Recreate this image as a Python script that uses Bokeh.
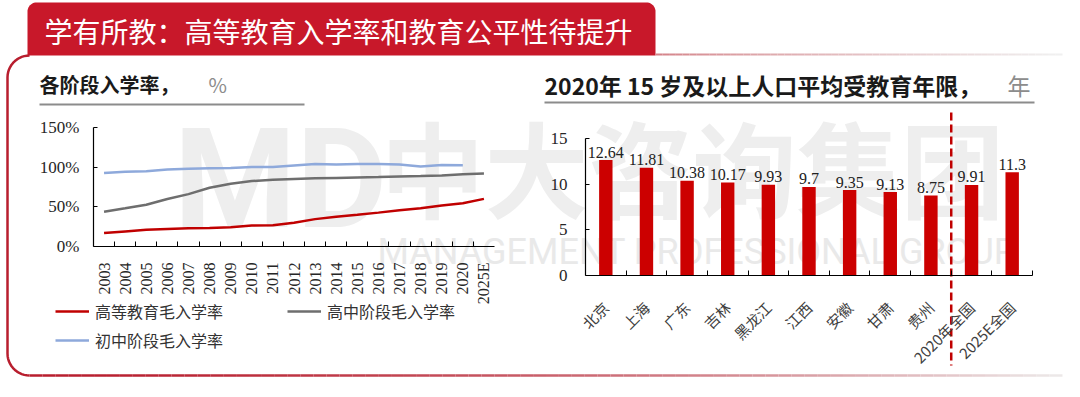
import numpy as np
from math import pi
from bokeh.plotting import figure
from bokeh.models import (Range1d, LinearAxis, FixedTicker, PrintfTickFormatter,
                          Legend, LegendItem)
from bokeh.core.properties import value
from bokeh.embed import file_html
from bokeh.resources import INLINE

# ---------------- data ----------------
years = ["2003", "2004", "2005", "2006", "2007", "2008", "2009", "2010", "2011",
         "2012", "2013", "2014", "2015", "2016", "2017", "2018", "2019", "2020", "2025E"]
higher_edu = [17.0, 19.0, 21.0, 22.0, 23.0, 23.3, 24.2, 26.5, 26.9, 30.0,
              34.5, 37.5, 40.0, 42.7, 45.7, 48.1, 51.6, 54.4, 60.0]
high_school = [43.8, 48.1, 52.7, 59.8, 66.0, 74.0, 79.2, 82.5, 84.0, 85.0,
               86.0, 86.5, 87.0, 87.5, 88.3, 88.8, 89.5, 91.2, 92.0]
junior_high = [92.7, 94.1, 95.0, 97.0, 98.0, 98.5, 99.0, 100.1, 100.1, 102.1,
               104.1, 103.5, 104.0, 104.0, 103.5, 100.9, 102.6, 102.5]
series_names = ["高等教育毛入学率", "高中阶段毛入学率", "初中阶段毛入学率"]
pct_ticks = [0, 50, 100, 150]

regions = ["北京", "上海", "广东", "吉林", "黑龙江", "江西", "安徽", "甘肃", "贵州",
           "2020年全国", "2025E全国"]
edu_years = [12.64, 11.81, 10.38, 10.17, 9.93, 9.7, 9.35, 9.13, 8.75, 9.91, 11.3]
year_ticks = [0, 5, 10, 15]
n_provinces = 9

banner_title = "学有所教：高等教育入学率和教育公平性待提升"
left_title = "各阶段入学率，"
left_unit = "%"
right_title = "2020年 15 岁及以上人口平均受教育年限，"
right_unit = "年"
wm_cn = "中大咨询集团"
wm_en = "MANAGEMENT PROFESSIONAL GROUP"
wm_logo = "MD"

# ---------------- layout helpers ----------------
W, H = 1064, 381


def span_range(d0, d1, p0, p1, lo, hi):
    s = (d1 - d0) / (p1 - p0)
    return Range1d(start=d0 + (lo - p0) * s, end=d0 + (hi - p0) * s)


def hex2rgb(h):
    h = h.lstrip("#")
    return np.array([int(h[i:i + 2], 16) for i in (0, 2, 4)], dtype=float)


def gradient(c0, c1, n, power=1.0):
    a, b = hex2rgb(c0), hex2rgb(c1)
    out = []
    for t in np.linspace(0, 1, n):
        c = a + (b - a) * (t ** power)
        out.append("#%02x%02x%02x" % tuple(int(round(v)) for v in c))
    return out


p = figure(width=W, height=H, x_range=Range1d(0, W), y_range=Range1d(H, 0),
           min_border=0, x_axis_type=None, y_axis_type=None,
           toolbar_location=None, output_backend="svg",
           outline_line_color=None, background_fill_color="white",
           border_fill_color="white")
p.xgrid.visible = False
p.ygrid.visible = False

p.extra_x_ranges = {
    "lx": span_range(-0.5, len(years) - 0.5, 93, 494, 0, W),
    "rx": span_range(-0.5, len(regions) - 0.5, 585, 1032, 0, W),
}
p.extra_y_ranges = {
    "ly": span_range(0, 150, 246, 127, H, 0),
    "ry": span_range(0, 15, 275, 138, H, 0),
}

CJK = "Noto Sans CJK SC"
SERIF = "Liberation Serif"

# ---------------- watermark ----------------
p.text(x=[280], y=[178], text=[wm_logo], text_font=value("Roboto"),
       text_font_style="bold", text_font_size="140px", text_color="#EEEEEE",
       text_align="center", text_baseline="middle")
p.text(x=[692], y=[165], text=[wm_cn], text_font=value(CJK),
       text_font_style="bold", text_font_size="104px", text_color="#EEEEEE",
       text_align="center", text_baseline="middle")
p.text(x=[377], y=[251], text=[wm_en], text_font=value("Roboto"),
       text_font_size="36px", text_color="#E9E9E9",
       text_align="left", text_baseline="middle")

# ---------------- banner ----------------
bx0, bx1, by0, by1, br = 27, 655, 2, 55, 9
t1 = np.linspace(pi, 1.5 * pi, 12)
t2 = np.linspace(1.5 * pi, 2 * pi, 12)
bxs = [bx0] + list(bx0 + br + br * np.cos(t1)) + list(bx1 - br + br * np.cos(t2)) + [bx1]
bys = [by1] + list(by0 + br + br * np.sin(t1)) + list(by0 + br + br * np.sin(t2)) + [by1]
p.patch(bxs, bys, fill_color="#C8182A", line_color=None)
p.text(x=[44], y=[30], text=[banner_title], text_font=value(CJK),
       text_font_size="28px", text_color="white", text_baseline="middle")

# ---------------- frame ----------------
fr = 22
fx, ftop, fbot = 7, 55, 375
ta = np.linspace(1.5 * pi, pi, 14)
tb = np.linspace(pi, 0.5 * pi, 14)
lxs = list(fx + fr + fr * np.cos(ta)) + list(fx + fr + fr * np.cos(tb))
lys = list(ftop + fr + fr * np.sin(ta)) + list(fbot - fr + fr * np.sin(tb))
p.line(lxs, lys, line_color="#B81E2E", line_width=2.5)

nb = 80
bxs_g = np.linspace(fx + fr, 1062, nb + 1)
p.segment(x0=bxs_g[:-1], y0=[fbot] * nb, x1=bxs_g[1:], y1=[fbot] * nb,
          line_color=gradient("#B81E2E", "#ECE8E8", nb, 1.6), line_width=2.5)
nt = 60
txs_g = np.linspace(bx1, 1062, nt + 1)
p.segment(x0=txs_g[:-1], y0=[54] * nt, x1=txs_g[1:], y1=[54] * nt,
          line_color=gradient("#D48288", "#F0F0F0", nt, 0.8), line_width=2)

# ---------------- panel titles ----------------
p.text(x=[39], y=[84], text=[left_title], text_font=value(CJK),
       text_font_style="bold", text_font_size="20px", text_color="#1A1A1A",
       text_baseline="middle")
p.text(x=[208], y=[84], text=[left_unit], text_font=value(CJK),
       text_font_size="20px", text_color="#8C8C8C", text_baseline="middle")
p.segment(x0=[39], y0=[104], x1=[304], y1=[104], line_color="#8C8C8C", line_width=2)

p.text(x=[544], y=[84], text=[right_title], text_font=value(CJK),
       text_font_style="bold", text_font_size="23px", text_color="#1A1A1A",
       text_baseline="middle")
p.text(x=[1007], y=[84], text=[right_unit], text_font=value(CJK),
       text_font_size="23px", text_color="#8C8C8C", text_baseline="middle")
p.segment(x0=[544], y0=[102], x1=[1034], y1=[102], line_color="#8C8C8C", line_width=2)

# ---------------- left chart: enrolment rates ----------------
r_hi = p.line(x=list(range(len(higher_edu))), y=higher_edu, x_range_name="lx",
              y_range_name="ly", line_color="#C00000", line_width=2.5)
r_hs = p.line(x=list(range(len(high_school))), y=high_school, x_range_name="lx",
              y_range_name="ly", line_color="#6E6E6E", line_width=2.5)
r_jh = p.line(x=list(range(len(junior_high))), y=junior_high, x_range_name="lx",
              y_range_name="ly", line_color="#8EA9DB", line_width=2.5)

ly_axis = LinearAxis(x_range_name="lx", y_range_name="ly", fixed_location=-0.5,
                     bounds=(pct_ticks[0], pct_ticks[-1]),
                     ticker=FixedTicker(ticks=pct_ticks),
                     formatter=PrintfTickFormatter(format="%d%%"))
lx_axis = LinearAxis(x_range_name="lx", y_range_name="ly", fixed_location=0,
                     bounds=(-0.5, len(years) - 0.5),
                     ticker=FixedTicker(ticks=list(range(len(years))),
                                        minor_ticks=[i + 0.5 for i in range(len(years) - 1)]),
                     major_label_overrides={i: y for i, y in enumerate(years)},
                     major_label_orientation=pi / 2)

ry_axis = LinearAxis(x_range_name="rx", y_range_name="ry", fixed_location=-0.5,
                     bounds=(year_ticks[0], year_ticks[-1]),
                     ticker=FixedTicker(ticks=year_ticks))
rx_axis = LinearAxis(x_range_name="rx", y_range_name="ry", fixed_location=0,
                     bounds=(-0.5, len(regions) - 0.5),
                     ticker=FixedTicker(ticks=list(range(len(regions))),
                                        minor_ticks=[i + 0.5 for i in range(len(regions))]),
                     major_label_overrides={i: r for i, r in enumerate(regions)},
                     major_label_orientation=pi / 4)

for ax in (ly_axis, lx_axis, ry_axis, rx_axis):
    ax.axis_line_color = "#000000"
    ax.axis_line_width = 1.2
    ax.major_tick_in = 4
    ax.major_tick_out = 0
    ax.minor_tick_in = 5
    ax.minor_tick_out = 0
    ax.major_tick_line_color = "#000000"
    ax.minor_tick_line_color = "#000000"
    ax.major_label_text_color = "#262626"
    ax.major_label_text_font = SERIF
    ax.major_label_text_font_size = "17px"

for ax in (lx_axis, rx_axis):
    ax.major_tick_line_color = None

ly_axis.major_label_standoff = 14
lx_axis.major_label_standoff = 16
lx_axis.major_label_text_font_size = "16px"
ry_axis.major_label_standoff = 18
rx_axis.major_label_standoff = 29
rx_axis.major_label_text_font = CJK
rx_axis.major_label_text_font_size = "15px"
rx_axis.major_label_text_color = "#404040"

p.add_layout(ly_axis, "left")
p.add_layout(lx_axis, "below")
p.add_layout(ry_axis, "left")
p.add_layout(rx_axis, "below")

legend = Legend(items=[LegendItem(label=series_names[0], renderers=[r_hi]),
                       LegendItem(label=series_names[1], renderers=[r_hs]),
                       LegendItem(label=series_names[2], renderers=[r_jh])],
                location=(55, 29), orientation="horizontal", ncols=2,
                glyph_width=34, glyph_height=20, label_height=20, label_width=187,
                label_standoff=6, spacing=5, padding=0, margin=0,
                border_line_color=None, background_fill_alpha=0,
                label_text_font=CJK, label_text_font_size="16px",
                label_text_color="#333333")
p.add_layout(legend)

# ---------------- right chart: schooling years ----------------
xi = list(range(len(regions)))
p.vbar(x=xi, top=edu_years, width=0.33, x_range_name="rx", y_range_name="ry",
       fill_color="#CC0000", line_color=None)
p.text(x=xi, y=edu_years, text=[str(v) for v in edu_years], x_range_name="rx",
       y_range_name="ry", text_align="center", text_baseline="alphabetic",
       y_offset=-8, text_font=value(SERIF), text_font_size="16px",
       text_color="#222222")

sep = n_provinces - 0.5
p.segment(x0=[sep], x1=[sep], y0=[112], y1=[365], x_range_name="rx",
          line_color="#C00000", line_width=2.5, line_dash="8 4")

open("out.html", "w").write(file_html(p, INLINE))
